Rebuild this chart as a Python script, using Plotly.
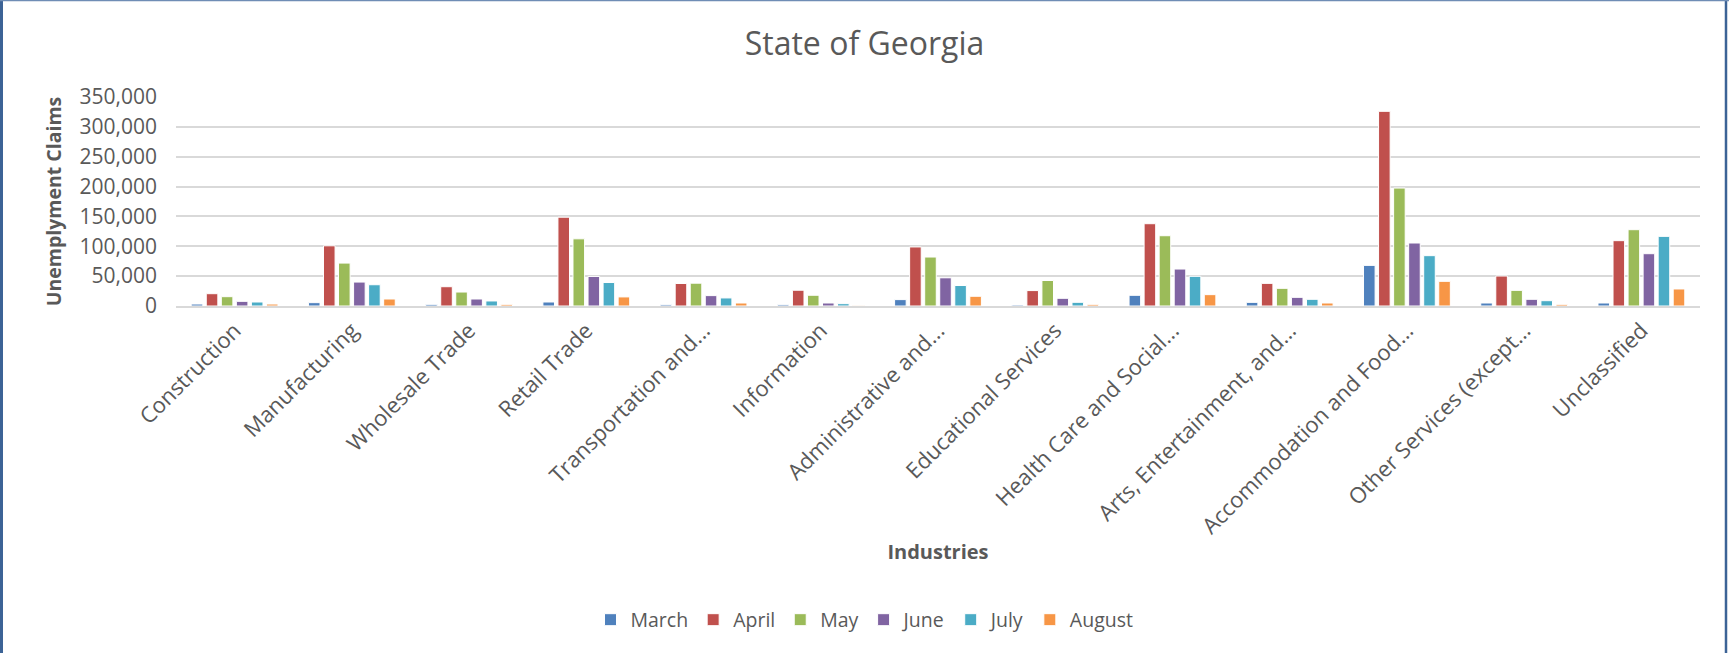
import plotly.graph_objects as go

industries = [
    "Construction", "Manufacturing", "Wholesale Trade", "Retail Trade",
    "Transportation and...", "Information", "Administrative and...",
    "Educational Services", "Health Care and Social...",
    "Arts, Entertainment, and...", "Accommodation and Food...",
    "Other Services (except...", "Unclassified",
]

march = [3300, 5600, 2800, 6700, 2200, 2200, 10700, 1700, 17900, 6100, 68000, 5000, 5000]
april = [20600, 100800, 32300, 148700, 37700, 26400, 98900, 25800, 137800, 37900, 326000, 50200, 109400]
may = [15600, 71900, 23400, 112500, 38200, 18000, 82000, 42700, 117700, 29600, 197500, 26200, 127800]
june = [7800, 40100, 11700, 49500, 17400, 5000, 47200, 12900, 61900, 14500, 105500, 11200, 87600]
july = [6700, 35600, 8400, 39300, 13500, 3900, 34300, 6200, 49700, 11200, 84300, 8900, 116600]
august = [3300, 11700, 2800, 15200, 5000, 1100, 16300, 2800, 19000, 5000, 41300, 2800, 28500]

series = [
    ("March", march, "#4F81BD"),
    ("April", april, "#C0504D"),
    ("May", may, "#9BBB59"),
    ("June", june, "#8064A2"),
    ("July", july, "#4BACC6"),
    ("August", august, "#F79646"),
]

W, H = 1729, 653
ML, MR, MT, MB = 176, 29, 97, 347
FONT = "Open Sans"
GREY = "#595959"

fig = go.Figure()
for name, vals, col in series:
    fig.add_trace(go.Bar(
        name=name, x=industries, y=vals,
        marker=dict(color=col, line=dict(color="white", width=1)),
    ))

pw = W - ML - MR
ph = H - MT - MB
def px_x(p):
    return (p - ML) / pw
def px_y(p):
    return (H - MB - p) / ph

fig.update_layout(
    width=W, height=H,
    margin=dict(l=ML, r=MR, t=MT, b=MB, autoexpand=False),
    paper_bgcolor="white", plot_bgcolor="white",
    barmode="group", bargap=0.23, bargroupgap=0.23,
    font=dict(family=FONT, color=GREY),
    title=dict(text="State of Georgia", xref="container", x=0.5, xanchor="center",
               yref="container", y=1 - 44 / H, yanchor="middle",
               font=dict(family=FONT, size=32, color=GREY)),
    legend=dict(orientation="h", xref="container", x=0.5, xanchor="center",
                yref="container", y=1 - 620 / H, yanchor="middle",
                font=dict(family=FONT, size=19.5, color=GREY),
                itemwidth=30, tracegroupgap=0),
    xaxis=dict(
        tickangle=-45, tickfont=dict(family=FONT, size=22, color=GREY),
        showgrid=False, showline=True, linecolor="#D9D9D9", linewidth=2,
        ticks="", ticklabelstandoff=1,
        title=dict(text="<b>Industries</b>", font=dict(family=FONT, size=20, color=GREY),
                   standoff=6),
        automargin=False,
    ),
    yaxis=dict(
        range=[0, 350000], dtick=50000, tickformat=",d",
        tickfont=dict(family=FONT, size=21, color=GREY),
        showgrid=True, gridcolor="#D9D9D9", gridwidth=1.5,
        zeroline=False, showline=False, ticks="", ticklabelstandoff=18,
        title=dict(text="<b>Unemplyment Claims</b>", font=dict(family=FONT, size=19.5, color=GREY),
                   standoff=12),
        automargin=False,
    ),
    shapes=[
        dict(type="line", xref="paper", yref="paper", x0=px_x(1.5), x1=px_x(1.5),
             y0=px_y(0), y1=px_y(H), line=dict(color="#3C6396", width=3), layer="above"),
        dict(type="line", xref="paper", yref="paper", x0=px_x(1726), x1=px_x(1726),
             y0=px_y(0), y1=px_y(H), line=dict(color="#3C6396", width=2.5), layer="above"),
        dict(type="line", xref="paper", yref="paper", x0=px_x(0), x1=px_x(W),
             y0=px_y(0.5), y1=px_y(0.5), line=dict(color="#6F8DB5", width=1.5), layer="above"),
    ],
)

fig.write_html("out.html", config={"displayModeBar": False},
               post_script="document.body.style.margin='0';document.body.style.overflow='hidden';")
